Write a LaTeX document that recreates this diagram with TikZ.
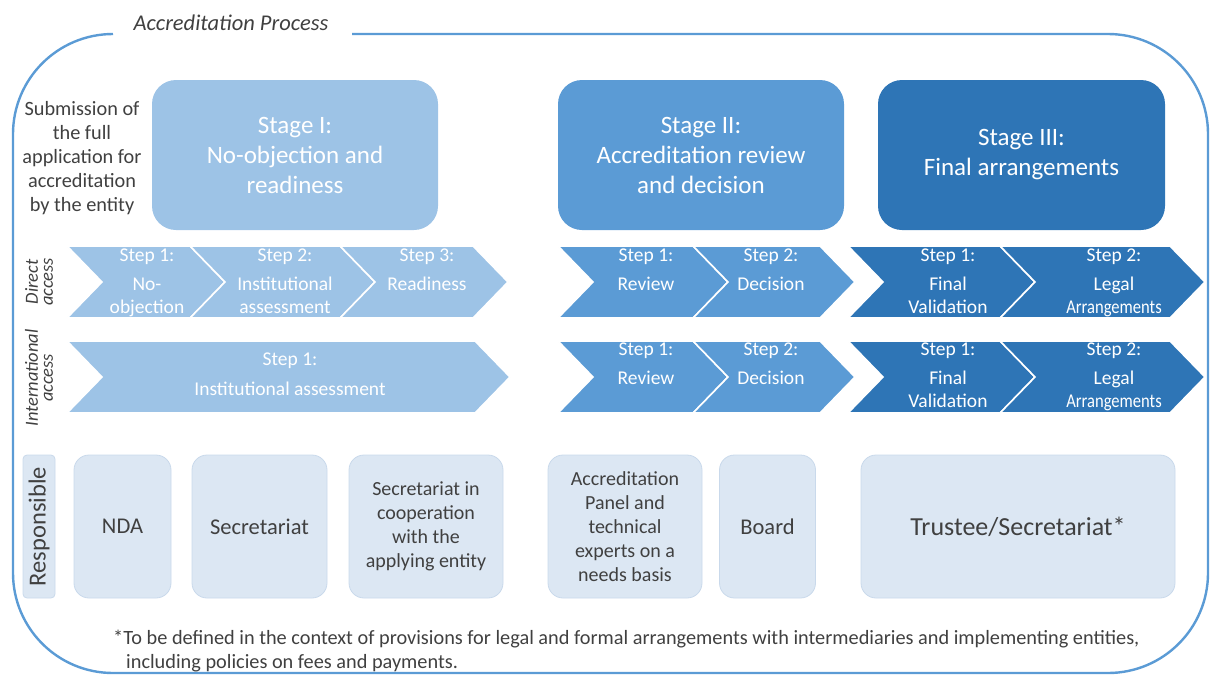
\documentclass[tikz,border=0pt]{standalone}
\usepackage{fontspec}
\setmainfont{Carlito}
\definecolor{frameblue}{HTML}{5B9BD5}
\definecolor{stageA}{HTML}{9DC3E6}
\definecolor{stageB}{HTML}{5B9BD5}
\definecolor{stageC}{HTML}{2E75B6}
\definecolor{respfill}{HTML}{DCE7F3}
\definecolor{respline}{HTML}{C9D9EB}
\definecolor{txtgray}{HTML}{404040}
% one arrow-shaped step: left x, x of upper right corner, top y, colour
\newcommand\chevpath[4]{%
  \filldraw[chev, fill=#4] (#1,#3) -- (#2,#3) -- ({#2+35},{#3+36}) -- (#2,{#3+72})
    -- (#1,{#3+72}) -- ({#1+35},{#3+36}) -- cycle;}
% narrow setting for the long word in the last steps
\newcommand\narrowword[1]{\scalebox{0.85}[1]{#1}}
\begin{document}
\begin{tikzpicture}[x=1pt,y=-1pt,
  frame/.style={draw=frameblue, line width=2.4pt, rounded corners=100pt},
  chev/.style={draw=white, line width=1.6pt, line join=miter},
  stagebox/.style={rounded corners=24pt, minimum width=286pt, minimum height=150pt,
    inner sep=0pt, text=white, align=center, font=\fontsize{25}{30}\selectfont},
  steptext/.style={text=white, align=center, anchor=north, inner sep=0pt,
    font=\fontsize{19.5}{23}\selectfont},
  respbox/.style={fill=respfill, draw=respline, line width=0.8pt, rounded corners=15pt,
    minimum height=143pt, inner sep=0pt, text=txtgray, align=center},
  bigresp/.style={font=\fontsize{22.5}{26}\selectfont},
  smallresp/.style={font=\fontsize{20}{24}\selectfont},
  sidelabel/.style={text=txtgray, align=center, rotate=90, inner sep=0pt,
    font=\itshape\fontsize{18.5}{15}\selectfont},
  graytext/.style={text=txtgray, inner sep=0pt}]
\useasboundingbox (0,0) rectangle (1213,675);

% outer frame with an opening for the title
\draw[frame] (352,34) -- (1208,34) -- (1208,673) -- (13,673) -- (13,34) -- (113,34);
\node[graytext, font=\itshape\fontsize{22.5}{24}\selectfont] (title) at (231,23) {Accreditation Process};

% entry text
\node[graytext, align=center, font=\fontsize{20.3}{24}\selectfont] (entry) at (82,158)
  {Submission of\\the full\\application for\\accreditation\\by the entity};

% stages
\node[stagebox, fill=stageA] (st1) at (295,155) {Stage I:\\No-objection and\\readiness};
\node[stagebox, fill=stageB] (st2) at (701,155) {Stage II:\\Accreditation review\\and decision};
\node[stagebox, fill=stageC, minimum width=287pt] (st3) at (1021.5,155) {Stage III:\\Final arrangements};

% row labels
\node[sidelabel] (lbdirect) at (39,282) {Direct\\access};
\node[sidelabel] (lbintl) at (39,378) {International\\access};

% direct access steps
\chevpath{67}{190}{246}{stageA}
\chevpath{190}{340}{246}{stageA}
\chevpath{340}{473}{246}{stageA}
\chevpath{558}{693}{246}{stageB}
\chevpath{693}{820}{246}{stageB}
\chevpath{848}{1000}{246}{stageC}
\chevpath{1000}{1170}{246}{stageC}

\node[steptext] (d11) at (147,249) {Step 1:\\[6pt]No-\\objection};
\node[steptext] (d12) at (285,249) {Step 2:\\[6pt]Institutional\\assessment};
\node[steptext] (d13) at (427,249) {Step 3:\\[6pt]Readiness};
\node[steptext] (d21) at (646,249) {Step 1:\\[6pt]Review};
\node[steptext] (d22) at (771,249) {Step 2:\\[6pt]Decision};
\node[steptext] (d31) at (948,249) {Step 1:\\[6pt]Final\\Validation};
\node[steptext] (d32) at (1114,249) {Step 2:\\[6pt]Legal\\\narrowword{Arrangements}};

% international access steps
\chevpath{67}{475}{341}{stageA}
\chevpath{558}{693}{341}{stageB}
\chevpath{693}{820}{341}{stageB}
\chevpath{848}{1000}{341}{stageC}
\chevpath{1000}{1170}{341}{stageC}

\node[steptext] (i11) at (290,353) {Step 1:\\[7pt]Institutional assessment};
\node[steptext] (i21) at (646,343) {Step 1:\\[6pt]Review};
\node[steptext] (i22) at (771,343) {Step 2:\\[6pt]Decision};
\node[steptext] (i31) at (948,343) {Step 1:\\[6pt]Final\\Validation};
\node[steptext] (i32) at (1114,343) {Step 2:\\[6pt]Legal\\\narrowword{Arrangements}};

% responsible parties
\node[respbox, rounded corners=4pt, minimum width=143pt, minimum height=32pt, rotate=90,
  font=\fontsize{24.5}{26}\selectfont] (resp) at (39,526.5) {Responsible};
\node[respbox, bigresp, minimum width=97pt] (r1) at (122.5,526.5) {NDA};
\node[respbox, bigresp, minimum width=135pt] (r2) at (259.5,526.5) {Secretariat};
\node[respbox, smallresp, minimum width=154pt] (r3) at (426,526.5)
  {Secretariat in\\cooperation\\with the\\applying entity};
\node[respbox, smallresp, minimum width=154pt] (r4) at (625,526.5)
  {Accreditation\\Panel and\\technical\\experts on a\\needs basis};
\node[respbox, bigresp, minimum width=96pt] (r5) at (767.5,526.5) {Board};
\node[respbox, font=\fontsize{26}{28}\selectfont, minimum width=314pt] (r6) at (1018,526.5) {Trustee/Secretariat*};

% footnote
\node[graytext, anchor=north west, align=left, font=\fontsize{20.3}{24}\selectfont] (note) at (113,630)
  {*To be defined in the context of provisions for legal and formal arrangements with intermediaries and implementing entities,\\
   \hspace*{13pt}including policies on fees and payments.};
\end{tikzpicture}
\end{document}
